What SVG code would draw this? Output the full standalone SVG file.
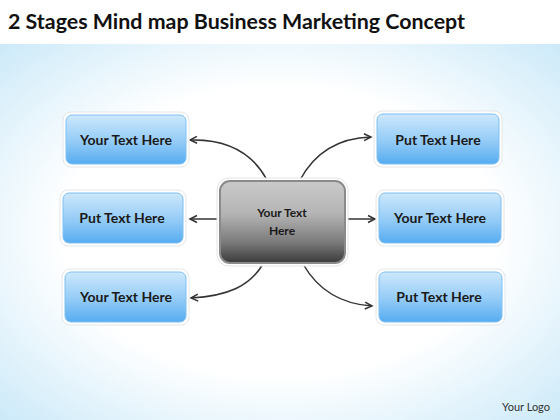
<svg xmlns="http://www.w3.org/2000/svg" width="560" height="420" viewBox="0 0 560 420">
<defs>
<radialGradient id="bg" cx="0.5" cy="0.5" r="0.7">
<stop offset="0" stop-color="#ffffff"/>
<stop offset="0.55" stop-color="#ffffff"/>
<stop offset="1" stop-color="#cdeaf9"/>
</radialGradient>
<linearGradient id="blue" x1="0" y1="0" x2="0" y2="1">
<stop offset="0" stop-color="#cde8fc"/>
<stop offset="0.55" stop-color="#93cbf7"/>
<stop offset="1" stop-color="#56acf0"/>
</linearGradient>
<linearGradient id="gray" x1="0" y1="0" x2="0" y2="1">
<stop offset="0" stop-color="#cacaca"/>
<stop offset="0.4" stop-color="#b4b4b4"/>
<stop offset="0.75" stop-color="#7a7a7a"/>
<stop offset="1" stop-color="#3a3a3a"/>
</linearGradient>
<marker id="arr" markerWidth="10" markerHeight="10" refX="8" refY="5" orient="auto" markerUnits="userSpaceOnUse">
<path d="M1,1.5 L8,5 L1,8.5" fill="none" stroke="#333" stroke-width="1.5"/>
</marker>
<style>
.outer{fill:#ffffff;stroke:#e2e6ea;stroke-width:1}
.box{fill:url(#blue);stroke:#7fc0f3;stroke-width:1}
.lbl{font-family:Lato,"Liberation Sans",sans-serif;font-weight:bold;font-size:14px;fill:#1a1a1a;text-anchor:middle}
.con{fill:none;stroke:#333;stroke-width:1.5;marker-end:url(#arr)}
</style>
</defs>
<rect x="0" y="0" width="560" height="420" fill="#ffffff"/>
<rect x="0" y="44" width="560" height="376" fill="url(#bg)"/>
<text x="8" y="29" font-family="Lato,'Liberation Sans',sans-serif" font-weight="bold" font-size="21" fill="#111" textLength="457" lengthAdjust="spacingAndGlyphs">2 Stages Mind map Business Marketing Concept</text>

<g id="connectors">
<path class="con" d="M267,180 C252,152 225,139 190,140"/>
<path class="con" d="M300,180 C315,152 338,138 371,137"/>
<path class="con" d="M219,219 L190,219"/>
<path class="con" d="M346,219 L375,219"/>
<path class="con" d="M263,264 C250,286 228,296 191,298"/>
<path class="con" d="M303,264 C318,290 340,304 372,306"/>
</g>

<g id="center">
<rect x="217" y="178" width="131" height="88" rx="12" fill="#ffffff" stroke="#e4e4e4"/>
<rect x="220" y="181" width="125" height="82" rx="10" fill="url(#gray)" stroke="#8a8a8a" stroke-width="2"/>
<text class="lbl" x="282" y="217" style="font-size:12px">Your Text</text>
<text class="lbl" x="282" y="235" style="font-size:12px">Here</text>
</g>

<g id="n1">
<rect class="outer" x="63" y="112" width="126" height="55" rx="8"/>
<rect class="box" x="66" y="115" width="120" height="49" rx="6"/>
<text class="lbl" x="126" y="145">Your Text Here</text>
</g>
<g id="n2">
<rect class="outer" x="60" y="190" width="126" height="56" rx="8"/>
<rect class="box" x="63" y="193" width="120" height="50" rx="6"/>
<text class="lbl" x="122" y="223">Put Text Here</text>
</g>
<g id="n3">
<rect class="outer" x="62" y="269" width="127" height="56" rx="8"/>
<rect class="box" x="65" y="272" width="121" height="50" rx="6"/>
<text class="lbl" x="126" y="302">Your Text Here</text>
</g>
<g id="n4">
<rect class="outer" x="374" y="111" width="128" height="56" rx="8"/>
<rect class="box" x="377" y="114" width="122" height="50" rx="6"/>
<text class="lbl" x="438" y="145">Put Text Here</text>
</g>
<g id="n5">
<rect class="outer" x="376" y="190" width="128" height="56" rx="8"/>
<rect class="box" x="379" y="193" width="122" height="50" rx="6"/>
<text class="lbl" x="440" y="223">Your Text Here</text>
</g>
<g id="n6">
<rect class="outer" x="376" y="269" width="129" height="56" rx="8"/>
<rect class="box" x="379" y="272" width="123" height="50" rx="6"/>
<text class="lbl" x="439" y="302">Put Text Here</text>
</g>

<text x="550" y="411" font-family="Lato,'Liberation Sans',sans-serif" font-size="11" fill="#333" text-anchor="end">Your Logo</text>
</svg>
